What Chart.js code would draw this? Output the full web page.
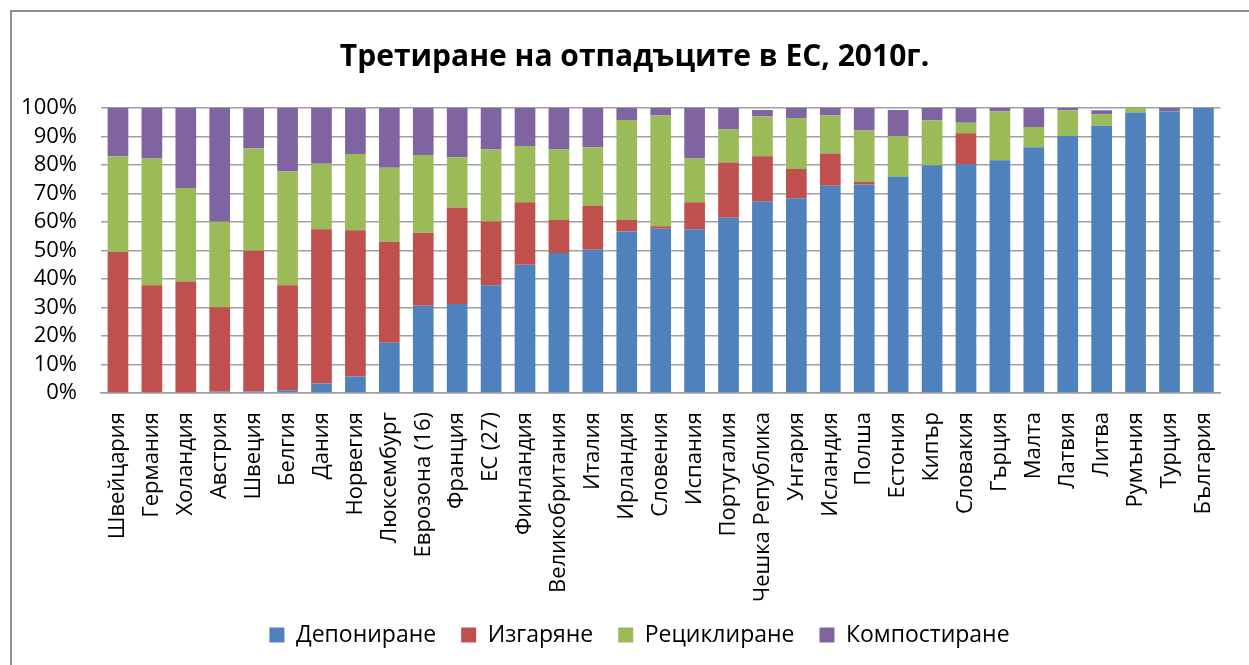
<!DOCTYPE html>
<html>
<head>
<meta charset="utf-8">
<script src="https://cdn.jsdelivr.net/npm/chart.js@4.4.1/dist/chart.umd.min.js"></script>
<style>
  html, body { margin: 0; padding: 0; background: #ffffff; }
  #wrap { position: relative; width: 1249px; height: 665px; }
</style>
</head>
<body>
<div id="wrap"><canvas id="c" width="1249" height="665"></canvas></div>
<script>
const categories = ['Швейцария','Германия','Холандия','Австрия','Швеция','Белгия','Дания','Норвегия','Люксембург','Еврозона (16)','Франция','ЕС (27)','Финландия','Великобритания','Италия','Ирландия','Словения','Испания','Португалия','Чешка Република','Унгария','Исландия','Полша','Естония','Кипър','Словакия','Гърция','Малта','Латвия','Литва','Румъния','Турция','България'];

const landfill     = [0,0,0,0.5,0.5,1.0,3.3,5.8,17.6,30.6,31.2,37.8,45.0,49.1,50.3,56.7,57.6,57.5,61.5,67.3,68.3,72.7,73.2,76.0,79.9,80.3,81.7,86.2,90.2,93.8,98.4,98.8,100];
const incineration = [49.5,37.8,39.1,29.6,49.4,36.8,54.2,51.3,35.5,25.6,33.9,22.4,21.9,11.6,15.3,4.0,0.9,9.4,19.4,15.8,10.3,11.3,0.9,0,0,10.8,0,0,0,0,0,0,0];
const recycling    = [33.6,44.5,32.8,30.0,35.9,39.9,22.9,26.8,25.9,27.3,17.6,25.2,19.8,24.7,20.6,35.1,38.9,15.4,11.6,13.9,17.9,13.4,18.0,14.2,15.8,3.7,17.1,7.1,9.0,4.0,1.6,0,0];
const composting   = [16.9,17.7,28.1,39.9,14.2,22.3,19.6,16.1,21.0,16.5,17.3,14.6,13.3,14.6,13.8,4.2,2.6,17.7,7.5,2.3,3.5,2.6,7.9,9.1,4.3,5.2,1.2,6.7,0.8,1.4,0,1.2,0];

const seriesNames = ['Депониране','Изгаряне','Рециклиране','Компостиране'];
const seriesColors = ['#4F81BD','#C0504D','#9BBB59','#8064A2'];
const titleText = 'Третиране на отпадъците в ЕС, 2010г.';

const FONT = "'Open Sans', 'DejaVu Sans', sans-serif";

const frame = {
  id: 'frame',
  afterLayout(chart) {
    if (chart.legend) {
      chart.legend.left += 15; chart.legend.right += 15;
      chart.legend.top -= 19.5; chart.legend.bottom -= 19.5;
    }
    if (chart.titleBlock) { chart.titleBlock.left += 10; chart.titleBlock.right += 10; }
  },
  afterDraw(chart) {
    const ctx = chart.ctx;
    ctx.save();
    ctx.strokeStyle = '#8e8e8e';
    ctx.lineWidth = 2;
    ctx.beginPath();
    ctx.moveTo(11, 665);
    ctx.lineTo(11, 11);
    ctx.lineTo(1249, 11);
    ctx.stroke();
    ctx.restore();
  }
};

const values = [landfill, incineration, recycling, composting];
new Chart(document.getElementById('c'), {
  type: 'bar',
  data: {
    labels: categories,
    datasets: seriesNames.map((n, i) => ({
      label: n,
      data: values[i],
      backgroundColor: seriesColors[i],
      borderWidth: 0,
      barPercentage: 0.61,
      categoryPercentage: 1.0
    }))
  },
  options: {
    responsive: false,
    animation: false,
    layout: { padding: { top: 12, left: 12, right: 12, bottom: -11 } },
    plugins: {
      title: {
        display: true,
        text: titleText,
        color: '#000',
        font: { family: FONT, size: 30, weight: 'bold' },
        padding: { top: 27, bottom: 33 }
      },
      legend: {
        position: 'bottom',
        labels: {
          color: '#000',
          font: { family: FONT, size: 23 },
          boxWidth: 15,
          boxHeight: 15,
          padding: 25
        }
      },
      tooltip: { enabled: false }
    },
    scales: {
      x: {
        stacked: true,
        grid: { display: false, drawTicks: false },
        border: { display: true, color: '#a0a0a0', width: 1.5 },
        ticks: {
          color: '#000',
          font: { family: FONT, size: 22 },
          maxRotation: 90, minRotation: 90,
          autoSkip: false,
          padding: 19
        },
        afterFit(axis) { axis.height = 225; }
      },
      y: {
        stacked: true,
        min: 0, max: 100,
        grid: { color: '#a0a0a0', lineWidth: 1.5, drawTicks: false },
        border: { display: false },
        ticks: {
          stepSize: 10,
          autoSkip: false,
          color: '#000',
          font: { family: FONT, size: 22 },
          padding: 24,
          callback: v => v + '%'
        },
        afterFit(axis) { axis.width = 89; }
      }
    }
  },
  plugins: [frame]
});
</script>
</body>
</html>
